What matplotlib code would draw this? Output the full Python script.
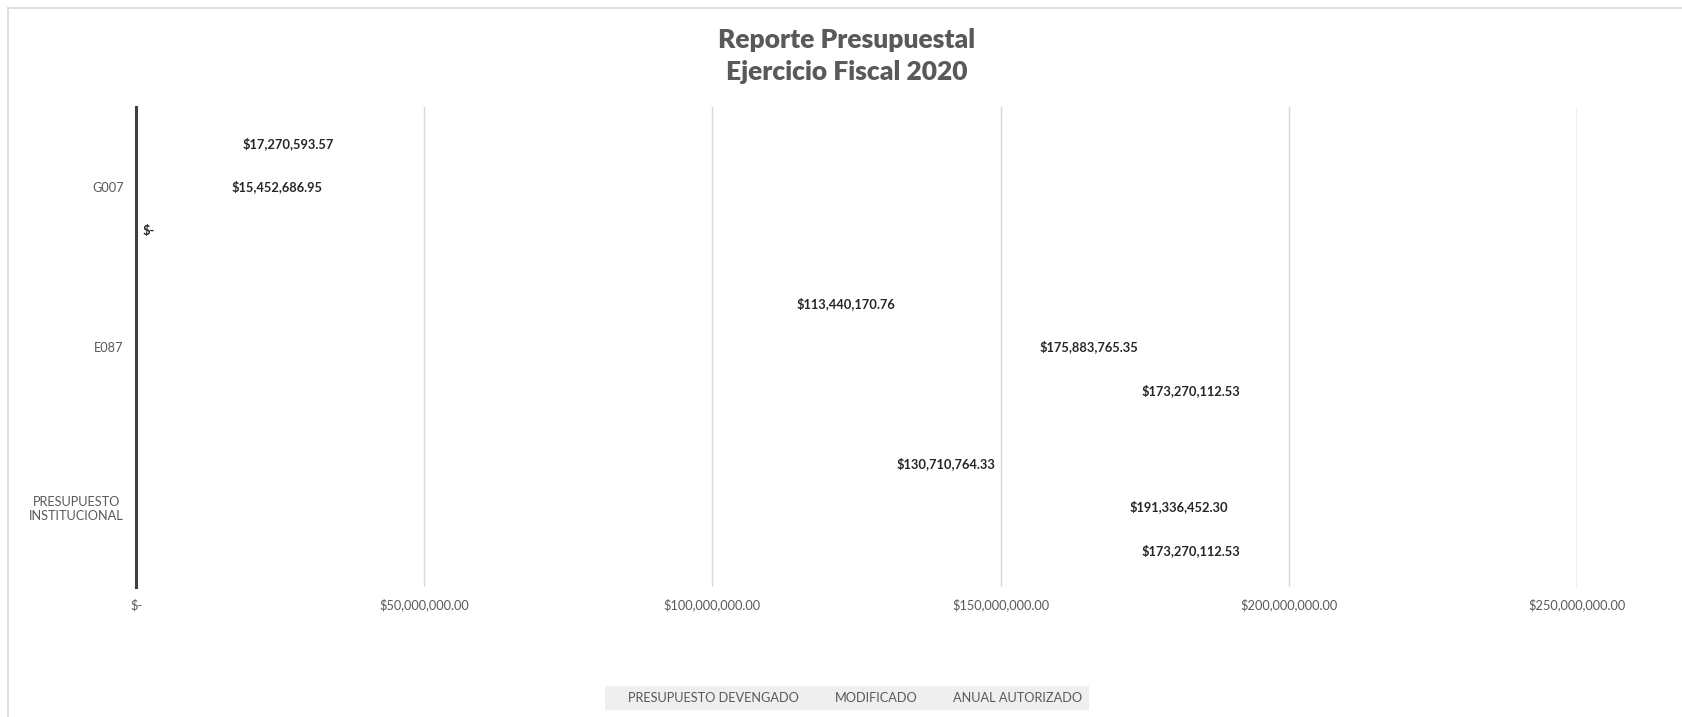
import matplotlib
matplotlib.use("Agg")
import matplotlib.pyplot as plt
from matplotlib.patches import Patch
from matplotlib.lines import Line2D
import numpy as np

plt.rcParams['font.family'] = ['Lato', 'DejaVu Sans']

categories = ["PRESUPUESTO\nINSTITUCIONAL", "E087", "G007"]
series_names = ["PRESUPUESTO DEVENGADO", "MODIFICADO", "ANUAL AUTORIZADO"]
devengado = [130710764.33, 113440170.76, 17270593.57]
modificado = [191336452.30, 175883765.35, 15452686.95]
autorizado = [173270112.53, 173270112.53, 0.0]
series_values = [devengado, modificado, autorizado]
xticks = [0, 50e6, 100e6, 150e6, 200e6, 250e6]

# label placement style: 'out' = just past bar end, 'in' = just inside bar end
label_side = [
    ["out", "out", "out"],
    ["in", "in", "out"],
    ["out", "out", "out"],
]

def money(v):
    return "$-" if v == 0 else f"${v:,.2f}"

W, H = 1682, 717
fig = plt.figure(figsize=(W / 100, H / 100), dpi=100)
ax = fig.add_axes([136 / W, 1 - 587 / H, (1577 - 136) / W, (587 - 107) / H])

y = np.arange(len(categories))
bh = 0.272
offsets = [bh, 0.0, -bh]
for vals, off in zip(series_values, offsets):
    ax.barh(y + off, vals, height=bh, color="white", zorder=1)

ax.set_xlim(0, 250e6)
ax.set_ylim(-0.5, len(categories) - 0.5)
ax.set_xticks(xticks)
ax.set_xticklabels([money(v) for v in xticks])
ax.set_yticks(y)
ax.set_yticklabels(categories, multialignment="center")
ax.tick_params(axis="both", length=0, labelsize=9.2, colors="#595959")
ax.tick_params(axis="x", pad=8.5)
ax.tick_params(axis="y", pad=9)

for x in xticks[1:]:
    ax.axvline(x, color="#a6a6a6" if x == xticks[-1] else "#d9d9d9", lw=1.0, zorder=2)

for s in ["top", "right", "bottom"]:
    ax.spines[s].set_visible(False)
ax.spines["left"].set_color("#404040")
ax.spines["left"].set_linewidth(2.2)
ax.spines["left"].set_zorder(3)

for si, (vals, off) in enumerate(zip(series_values, offsets)):
    for ci, v in enumerate(vals):
        side = label_side[si][ci]
        if side == "out":
            ax.annotate(money(v), (v, y[ci] + off), xytext=(5, 0), textcoords="offset points",
                        ha="left", va="center", fontsize=9.3, fontweight="bold", color="#262626", zorder=4)
        else:
            ax.annotate(money(v), (v, y[ci] + off), xytext=(-8, 0), textcoords="offset points",
                        ha="right", va="center", fontsize=9.3, fontweight="bold", color="#262626", zorder=4)

fig.text(847 / W, 1 - 56 / H, "Reporte Presupuestal\nEjercicio Fiscal 2020", ha="center", va="center",
         fontsize=19, fontweight="heavy", color="#595959", linespacing=1.42)

# outer chart border (top and left visible)
fig.add_artist(Line2D([8 / W, 1], [1 - 8 / H, 1 - 8 / H], color="#d9d9d9", lw=1.2, transform=fig.transFigure))
fig.add_artist(Line2D([8 / W, 8 / W], [0, 1 - 8 / H], color="#d9d9d9", lw=1.2, transform=fig.transFigure))

handles = [Patch(facecolor="none", edgecolor="none") for _ in series_names]
leg = fig.legend(handles, series_names, loc="center", bbox_to_anchor=(847 / W, 1 - 698 / H), ncol=3,
                 frameon=True, fontsize=9.2, handlelength=0.9, handletextpad=0.4, columnspacing=1.5,
                 borderpad=0.5, fancybox=False, labelcolor="#595959")
leg.get_frame().set_facecolor("#ececec")
leg.get_frame().set_edgecolor("none")

fig.savefig("out.png", dpi=100, facecolor="white")
